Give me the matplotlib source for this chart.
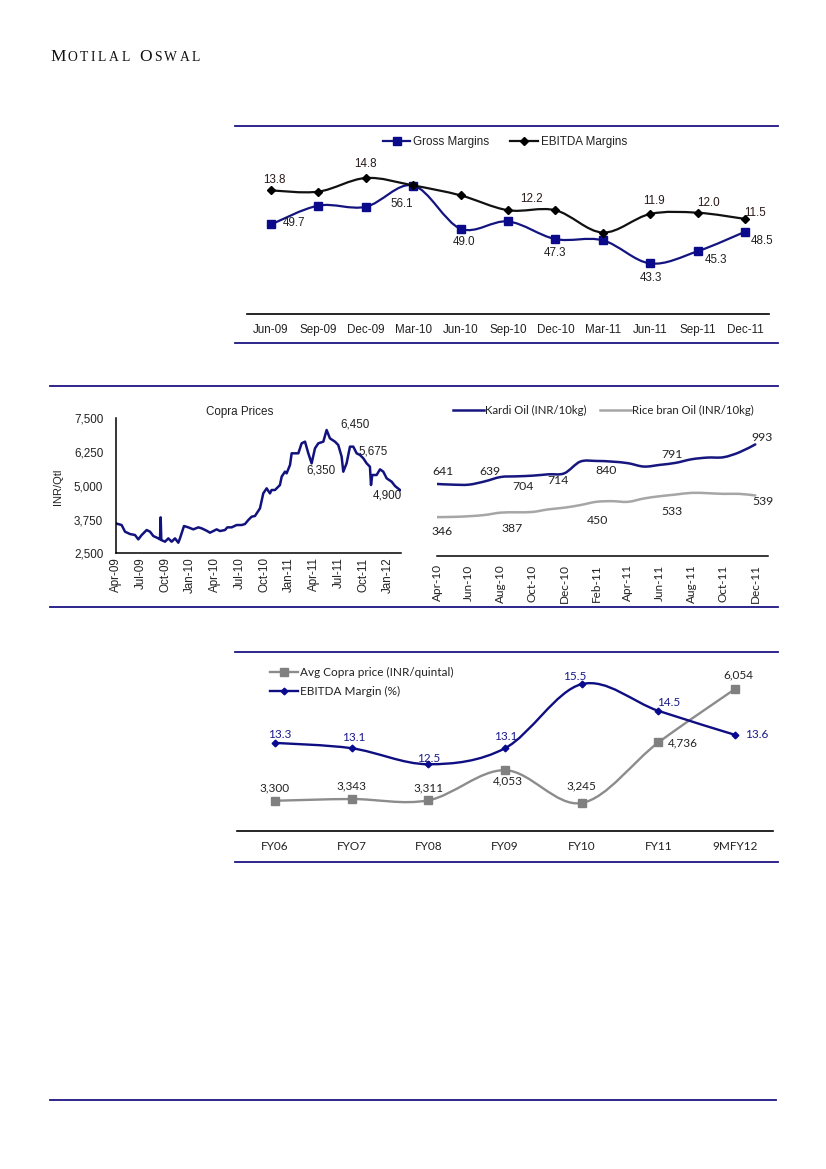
import matplotlib
matplotlib.use('Agg')
import matplotlib.pyplot as plt
from matplotlib.path import Path
from matplotlib.patches import PathPatch
from matplotlib.lines import Line2D

# ---------------- data ----------------
quarters = ['Jun-09', 'Sep-09', 'Dec-09', 'Mar-10', 'Jun-10', 'Sep-10',
            'Dec-10', 'Mar-11', 'Jun-11', 'Sep-11', 'Dec-11']
gross_margin = [49.7, 52.8, 52.6, 56.1, 49.0, 50.2, 47.3, 47.1, 43.3, 45.3, 48.5]
ebitda_margin = [13.8, 13.7, 14.8, 14.2, 13.4, 12.2, 12.2, 10.4, 11.9, 12.0, 11.5]
gross_labelled = [0, 3, 4, 6, 8, 9, 10]
ebitda_labelled = [0, 2, 5, 8, 9, 10]

copra_ticks = ['Apr-09', 'Jul-09', 'Oct-09', 'Jan-10', 'Apr-10', 'Jul-10',
               'Oct-10', 'Jan-11', 'Apr-11', 'Jul-11', 'Oct-11', 'Jan-12']
copra_month = [0, 0.72, 1.13, 1.73, 2.34, 2.74, 3.15, 3.75, 4.16, 4.56, 5.17, 5.37,
               5.45, 5.53, 5.98, 6.38, 6.78, 7.19, 7.59, 7.79, 8.28, 8.80, 9.41,
               10.02, 10.42, 11.02, 11.43, 12.24, 12.64, 13.25, 13.53, 14.06, 14.66,
               15.27, 15.67, 16.08, 16.48, 16.88, 17.49, 17.89, 18.30, 18.70, 18.90,
               19.31, 19.91, 20.12, 20.52, 20.72, 21.13, 21.33, 21.73, 22.14, 22.54,
               22.95, 23.35, 23.75, 24.16, 24.56, 25.17, 25.57, 25.97, 26.58, 26.98,
               27.39, 27.59, 27.99, 28.40, 28.80, 29.21, 29.61, 30.02, 30.42, 30.82,
               30.95, 31.10, 31.63, 32.04, 32.44, 32.85, 33.45, 33.86, 34.47]
copra_price = [3609, 3547, 3300, 3214, 3177, 3016, 3177, 3362, 3300, 3140, 3053, 3016,
               3831, 2992, 2930, 3053, 2930, 3053, 2893, 3053, 3510, 3461, 3387,
               3461, 3424, 3337, 3263, 3387, 3325, 3362, 3461, 3461, 3547,
               3547, 3584, 3733, 3856, 3881, 4165, 4720, 4906, 4720, 4844,
               4844, 5029, 5338, 5523, 5462, 5770, 6203, 6203, 6203, 6573,
               6635, 6203, 5832, 6388, 6573, 6635, 7067, 6758, 6635, 6511,
               6079, 5523, 5832, 6450, 6450, 6203, 6141, 6018, 5832, 5708,
               5029, 5400, 5400, 5610, 5523, 5276, 5153, 4992, 4844]
copra_labels = ['6,450', '5,675', '6,350', '4,900']

oil_months = ['Apr-10', 'May-10', 'Jun-10', 'Jul-10', 'Aug-10', 'Sep-10', 'Oct-10',
              'Nov-10', 'Dec-10', 'Jan-11', 'Feb-11', 'Mar-11', 'Apr-11', 'May-11',
              'Jun-11', 'Jul-11', 'Aug-11', 'Sep-11', 'Oct-11', 'Nov-11', 'Dec-11']
kardi_oil = [641, 635, 635, 664, 703, 709, 715, 727, 736, 840, 846, 840, 826, 796,
             811, 829, 861, 876, 879, 923, 993]
rice_bran_oil = [346, 348, 354, 365, 386, 389, 392, 415, 430, 453, 482, 488, 482,
                 512, 532, 547, 562, 559, 553, 553, 539]
kardi_labels = ['641', '639', '704', '714', '840', '791', '993']
rice_labels = ['346', '387', '450', '533', '539']

fiscal_years = ['FY06', 'FYO7', 'FY08', 'FY09', 'FY10', 'FY11', '9MFY12']
avg_copra = [3300, 3343, 3311, 4053, 3245, 4736, 6054]
ebitda_pct = [13.3, 13.1, 12.5, 13.1, 15.5, 14.5, 13.6]

# ---------------- style ----------------
W, H = 826, 1169
NAVY = '#12127E'
FRAME = '#1C1480'
GREY = '#8C8C8C'
LGREY = '#A6A6A6'
TXT = '#222222'
ARIAL = ['Liberation Sans', 'DejaVu Sans']
CALI = ['Lato', 'DejaVu Sans']

fig = plt.figure(figsize=(W / 100, H / 100), dpi=100)


def ax_px(x0, y0, x1, y1):
    return fig.add_axes([x0 / W, 1 - y1 / H, (x1 - x0) / W, (y1 - y0) / H])


def hline(y, x0, x1, color=FRAME, lw=1.3):
    fig.add_artist(Line2D([x0 / W, x1 / W], [1 - y / H, 1 - y / H], color=color,
                          lw=lw, transform=fig.transFigure))


def smooth(ax, xs, ys, color, lw, zorder=2):
    n = len(xs)
    verts = [(xs[0], ys[0])]
    codes = [Path.MOVETO]
    for i in range(n - 1):
        p0 = (xs[i - 1], ys[i - 1]) if i > 0 else (xs[i], ys[i])
        p1 = (xs[i], ys[i])
        p2 = (xs[i + 1], ys[i + 1])
        p3 = (xs[i + 2], ys[i + 2]) if i + 2 < n else p2
        c1 = (p1[0] + (p2[0] - p0[0]) / 6, p1[1] + (p2[1] - p0[1]) / 6)
        c2 = (p2[0] - (p3[0] - p1[0]) / 6, p2[1] - (p3[1] - p1[1]) / 6)
        verts += [c1, c2, p2]
        codes += [Path.CURVE4] * 3
    ax.add_patch(PathPatch(Path(verts, codes), fill=False, edgecolor=color, lw=lw,
                           zorder=zorder, capstyle='round', joinstyle='round'))


def clean(ax, keep=()):
    for s in ['left', 'right', 'top', 'bottom']:
        ax.spines[s].set_visible(s in keep)
    ax.patch.set_alpha(0)


# ---------------- header ----------------
renderer = fig.canvas.get_renderer()
hx = 50.0
for word_i, word in enumerate(['MOTILAL', 'OSWAL']):
    for ci, ch in enumerate(word):
        size = 12.5 if ci == 0 else 9.8
        t = fig.text(hx / W, 1 - 61 / H, ch, fontsize=size, family=['Liberation Serif'],
                     color='#111111', va='baseline', ha='left')
        bb = t.get_window_extent(renderer)
        hx += bb.width + 2.5
    hx += 7

# frame lines
hline(126, 235, 778)
hline(343, 235, 778)
hline(386, 50, 778)
hline(607, 50, 778)
hline(652, 235, 778)
hline(862, 235, 778)
hline(1100, 50, 776)

# ---------------- chart 1: margins ----------------
ax1 = ax_px(247.3, 160, 768.7, 314)
ax1b = ax1.twinx()
x = list(range(len(quarters)))
ax1.set_xlim(-0.5, 10.5)
ax1b.set_xlim(-0.5, 10.5)
ax1.set_ylim(35, 35 + 154 / 6.09)
ax1b.set_ylim(14.8 - 136 / 12.4, 14.8 + 18 / 12.4)
clean(ax1, keep=('bottom',))
clean(ax1b)
ax1.spines['bottom'].set_color('black')
ax1.spines['bottom'].set_linewidth(1.2)
ax1.set_yticks([])
ax1b.set_yticks([])
ax1.set_xticks(x)
ax1.set_xticklabels(quarters, fontsize=8.4, family=ARIAL, color=TXT)
ax1.tick_params(axis='x', length=0, pad=7)
smooth(ax1, x, gross_margin, '#141480', 1.6)
ax1.plot(x, gross_margin, ls='none', marker='s', ms=5.6, color='#0A0A8A', zorder=3)
smooth(ax1b, x, ebitda_margin, '#111111', 1.6)
ax1b.plot(x, ebitda_margin, ls='none', marker='D', ms=3.6, color='#000000', zorder=4)
g_off = {0: (23, 1), 3: (-11.5, -18), 4: (3.4, -13), 6: (0, -14), 8: (1, -15),
         9: (18, -9), 10: (17, -9)}
for i in gross_labelled:
    ax1.annotate(f'{gross_margin[i]:.1f}', (x[i], gross_margin[i]), xytext=g_off[i],
                 textcoords='offset pixels', ha='center', va='center', fontsize=8.4,
                 family=ARIAL, color=TXT, zorder=5)
e_off = {0: (3, 10), 2: (0, 14), 5: (23, 11), 8: (4, 13), 9: (11, 10), 10: (10, 6)}
for i in ebitda_labelled:
    ax1b.annotate(f'{ebitda_margin[i]:.1f}', (x[i], ebitda_margin[i]), xytext=e_off[i],
                  textcoords='offset pixels', ha='center', va='center', fontsize=8.4,
                  family=ARIAL, color='#2a1a1a', zorder=5)
h1 = [Line2D([], [], color='#141480', lw=1.6, marker='s', ms=5.6, mfc='#0A0A8A', mec='#0A0A8A'),
      Line2D([], [], color='#111111', lw=1.6, marker='D', ms=3.6, mfc='black', mec='black')]
fig.legend(h1, ['Gross Margins', 'EBITDA Margins'], loc='center left',
           bbox_to_anchor=(383 / W, 1 - 142 / H), ncol=2, frameon=False,
           prop={'family': ARIAL, 'size': 8.4}, handlelength=2.35, handletextpad=0.25,
           columnspacing=1.8, borderpad=0, borderaxespad=0, labelcolor=TXT)

# ---------------- chart 2: copra prices ----------------
ax2 = ax_px(115.7, 418.3, 400.7, 553.3)
ax2.set_xlim(0, 34.55)
ax2.set_ylim(2500, 7500)
clean(ax2, keep=('left', 'bottom'))
for s in ('left', 'bottom'):
    ax2.spines[s].set_color('black')
    ax2.spines[s].set_linewidth(1.1)
ax2.plot(copra_month, copra_price, color=NAVY, lw=1.8, solid_joinstyle='round')
ax2.set_yticks([2500, 3750, 5000, 6250, 7500])
ax2.set_yticklabels(['2,500', '3,750', '5,000', '6,250', '7,500'], fontsize=8.4,
                    family=ARIAL, color=TXT)
ax2.set_xticks([3 * i for i in range(len(copra_ticks))])
ax2.set_xticklabels(copra_ticks, rotation=90, fontsize=8.4, family=ARIAL, color=TXT)
ax2.tick_params(axis='y', length=0, pad=9)
ax2.tick_params(axis='x', length=0, pad=3)
ax2.set_ylabel('INR/Qtl', fontsize=8, family=ARIAL, color=TXT, labelpad=6)
ax2.yaxis.set_label_coords((63 - 115.7) / 285, (553.3 - 487) / 135)
fig.text(240 / W, 1 - 411.5 / H, 'Copra Prices', ha='center', va='center', fontsize=8.4,
         family=ARIAL, color=TXT)
copra_lab_pos = [(29.0, 7259), (31.22, 6263), (24.85, 5585), (32.97, 4659)]
for lab, (px, py) in zip(copra_labels, copra_lab_pos):
    ax2.text(px, py, lab, ha='center', va='center', fontsize=8.4, family=ARIAL,
             color=TXT, zorder=1)

# ---------------- chart 3: oils ----------------
ax3 = ax_px(437, 415, 768, 556)
ax3.set_xlim(0, 20.8)
ax3.set_ylim(0, (556 - 415) * 8.9)
clean(ax3, keep=('bottom',))
ax3.spines['bottom'].set_color('black')
ax3.spines['bottom'].set_linewidth(1.1)
ox = list(range(len(oil_months)))
smooth(ax3, ox, kardi_oil, '#16167F', 1.8)
smooth(ax3, ox, rice_bran_oil, LGREY, 1.8)
ax3.set_yticks([])
ax3.set_xticks(ox[::2])
ax3.set_xticklabels(oil_months[::2], rotation=90, fontsize=8.5, family=CALI, color=TXT)
ax3.tick_params(axis='x', length=0, pad=6)
kardi_pos = [(0.38, 748), (3.33, 748), (5.41, 623), (7.61, 668), (10.63, 757),
             (14.78, 899), (20.44, 1059)]
for lab, (px, py) in zip(kardi_labels, kardi_pos):
    ax3.text(px, py, lab, ha='center', va='center', fontsize=8.8, family=CALI, color=TXT)
rice_pos = [(0.31, 214), (4.72, 249), (10.06, 320), (14.78, 392), (20.5, 481)]
for lab, (px, py) in zip(rice_labels, rice_pos):
    ax3.text(px, py, lab, ha='center', va='center', fontsize=8.8, family=CALI, color=TXT)
h3 = [Line2D([], [], color='#16167F', lw=1.8), Line2D([], [], color=LGREY, lw=1.8)]
fig.legend(h3, ['Kardi Oil (INR/10kg)', 'Rice bran Oil (INR/10kg)'], loc='center left',
           bbox_to_anchor=(453 / W, 1 - 410 / H), ncol=2, frameon=False,
           prop={'family': CALI, 'size': 8.2}, handlelength=2.7, handletextpad=0.1,
           columnspacing=1.2, borderpad=0, borderaxespad=0, labelcolor=TXT)

# ---------------- chart 4: copra vs EBITDA ----------------
ax4 = ax_px(236.6, 651, 773.4, 831)
ax4b = ax4.twinx()
fx = list(range(len(fiscal_years)))
ax4.set_xlim(-0.5, 6.5)
ax4b.set_xlim(-0.5, 6.5)
ax4.set_ylim(2555, 6990)
ax4b.set_ylim(10, 10 + 180 / 26.7)
clean(ax4, keep=('bottom',))
clean(ax4b)
ax4.spines['bottom'].set_color('black')
ax4.spines['bottom'].set_linewidth(1.2)
ax4.set_yticks([])
ax4b.set_yticks([])
ax4.set_xticks(fx)
ax4.set_xticklabels(fiscal_years, fontsize=8.5, family=CALI, color=TXT)
ax4.tick_params(axis='x', length=0, pad=7)
smooth(ax4, fx, avg_copra, GREY, 1.7)
ax4.plot(fx, avg_copra, ls='none', marker='s', ms=5.5, color='#808080', zorder=3)
smooth(ax4b, fx, ebitda_pct, '#0E0E82', 1.7)
ax4b.plot(fx, ebitda_pct, ls='none', marker='D', ms=3.4, color='#0A0A90', zorder=4)
c_off = [(0, 13), (0, 13), (0, 12), (3, -11), (0, 17), (25, 0), (3, 14)]
for i in fx:
    ax4.annotate(f'{avg_copra[i]:,}', (fx[i], avg_copra[i]), xytext=c_off[i],
                 textcoords='offset pixels', ha='center', va='center', fontsize=8.5,
                 family=CALI, color=TXT, zorder=5)
e4_off = [(5, 8), (2, 11), (0, 6), (1, 12), (-7, 8), (10, 8), (22, 0)]
for i in fx:
    ax4b.annotate(f'{ebitda_pct[i]:.1f}', (fx[i], ebitda_pct[i]), xytext=e4_off[i],
                  textcoords='offset pixels', ha='center', va='center', fontsize=8.5,
                  family=CALI, color='#1a1a8a', zorder=5)
h4 = [Line2D([], [], color=GREY, lw=1.7, marker='s', ms=5.5, mfc='#808080', mec='#808080'),
      Line2D([], [], color='#0E0E82', lw=1.7, marker='D', ms=3.4, mfc='#0A0A90', mec='#0A0A90')]
fig.legend(h4, ['Avg Copra price (INR/quintal)', 'EBITDA Margin (%)'], loc='center left',
           bbox_to_anchor=(270 / W, 1 - 682 / H), ncol=1, frameon=False,
           prop={'family': CALI, 'size': 8.5}, handlelength=2.4, handletextpad=0.1,
           labelspacing=0.7, borderpad=0, borderaxespad=0, labelcolor=TXT)

fig.savefig('out.png', dpi=100)
